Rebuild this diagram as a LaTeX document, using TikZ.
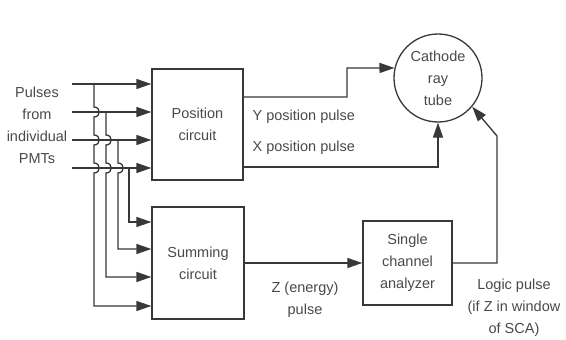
\documentclass[tikz,border=0pt]{standalone}
\usepackage{fontspec}
\setmainfont{Liberation Sans}
\usetikzlibrary{arrows.meta,calc}
\definecolor{lc}{HTML}{383838}
\definecolor{tc}{HTML}{4A4A4A}
\begin{document}
\begin{tikzpicture}[x=1pt,y=-1pt,line width=1.3pt,
  every path/.style={draw=lc},
  lbl/.style={text=tc,font=\fontsize{14.5}{22}\selectfont,align=center,inner sep=0pt},
  box/.style={draw=lc,line width=1.3pt,fill=white,text=tc,font=\fontsize{14.5}{22}\selectfont,align=center},
  arr/.style={-{Triangle[length=15pt,width=10pt]}}]
\useasboundingbox[fill=white,draw=none] (0,0) rectangle (566,340);

\node[box,minimum width=91,minimum height=111] (pos) at (197.5,124.5) {Position\\circuit};
\node[box,minimum width=92,minimum height=112] (sum) at (198,263) {Summing\\circuit};
\node[box,minimum width=89,minimum height=84] (sca) at (407.5,263) {Single\\channel\\analyzer};
\node[box,circle,minimum size=88,inner sep=0pt] (crt) at (438,78) {Cathode\\ray\\tube};

\node[lbl] (pmt) at (37,125) {Pulses\\from\\individual\\PMTs};
\node[lbl,anchor=west] (ylab) at (252,117) {Y position pulse};
\node[lbl,anchor=west] (xlab) at (252,148) {X position pulse};
\node[lbl] (zlab) at (305,300) {Z (energy)\\pulse};
\node[lbl] (llab) at (514,308) {Logic pulse\\(if Z in window\\of SCA)};

\coordinate (in1) at (72,84);
\coordinate (in2) at (72,112);
\coordinate (in3) at (72,140);
\coordinate (in4) at (72,168);

\draw[arr] (in1) -- (pos.west |- in1);
\draw[arr] (in2) -- (pos.west |- in2);
\draw[arr] (in3) -- (pos.west |- in3);
\draw[arr] (in4) -- (pos.west |- in4);

\coordinate (s1) at (152,222);
\coordinate (s2) at (152,249);
\coordinate (s3) at (152,277);
\coordinate (s4) at (152,306);

% taps with hops
\draw[arr] (94,84) -- (94,107) .. controls (101,107) and (101,117) .. (94,117)
  -- (94,135) .. controls (101,135) and (101,145) .. (94,145)
  -- (94,163) .. controls (101,163) and (101,173) .. (94,173)
  -- (94,306) -- (sum.west |- s4);
\draw[arr] (106,112) -- (106,135) .. controls (113,135) and (113,145) .. (106,145)
  -- (106,163) .. controls (113,163) and (113,173) .. (106,173)
  -- (106,277) -- (sum.west |- s3);
\draw[arr] (118,140) -- (118,163) .. controls (125,163) and (125,173) .. (118,173)
  -- (118,249) -- (sum.west |- s2);
\draw[arr] (129,168) -- (129,222) -- (sum.west |- s1);

% position outputs
\draw[arr] (pos.east |- 0,97) -- (347,97) -- (347,68) -- (crt.167);
\draw[arr] (pos.east |- 0,167) -| (crt.south);

% Z
\draw[arr] (sum.east) -- (sca.west);

% logic
\draw[arr] (sca.east) -- (497,263) -- (497,136) -- (crt.-40);
\end{tikzpicture}
\end{document}
